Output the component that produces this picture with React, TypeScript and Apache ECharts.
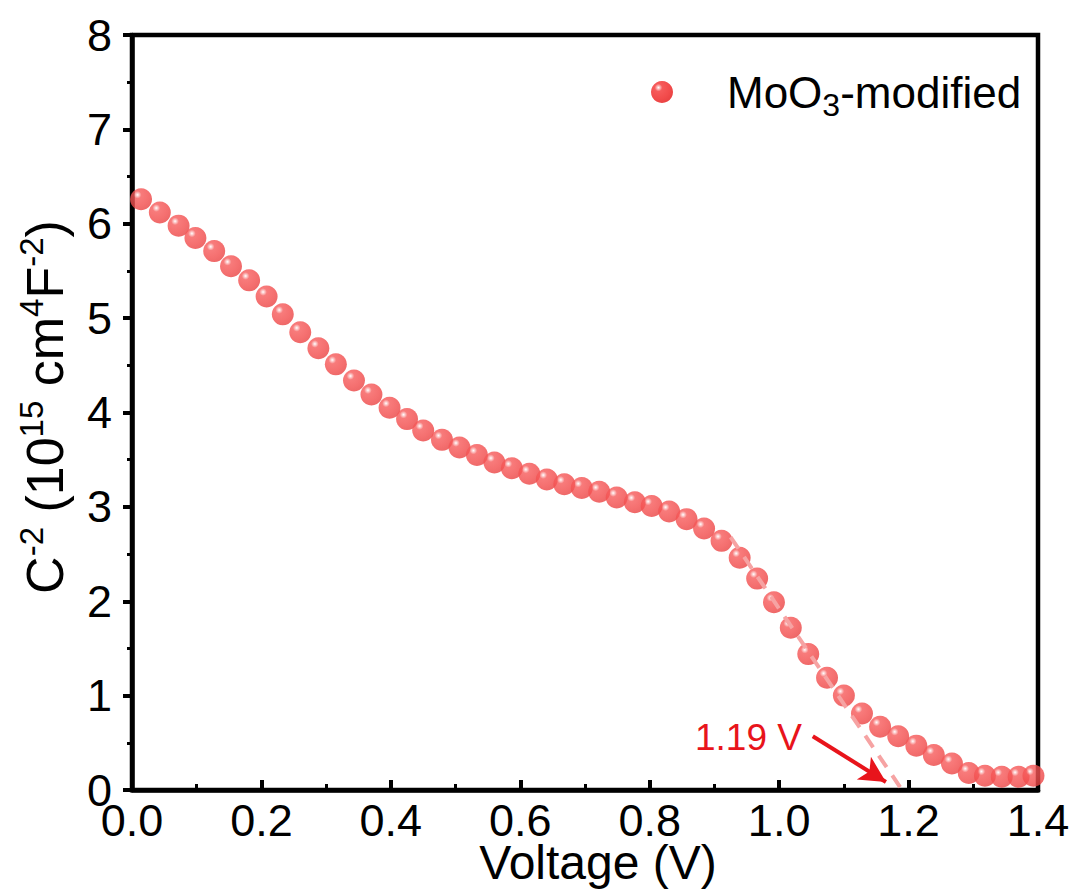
import React, { useEffect, useRef } from "react";
import * as echarts from "echarts";

// Voltage (V)
const voltage = [0.014, 0.043, 0.072, 0.098, 0.127, 0.153, 0.181, 0.208, 0.233, 0.26, 0.288, 0.315, 0.343, 0.37, 0.398, 0.425, 0.45, 0.479, 0.506, 0.533, 0.56, 0.587, 0.614, 0.641, 0.668, 0.695, 0.722, 0.749, 0.777, 0.803, 0.83, 0.857, 0.884, 0.911, 0.939, 0.966, 0.992, 1.018, 1.045, 1.074, 1.1, 1.128, 1.156, 1.184, 1.212, 1.239, 1.267, 1.293, 1.318, 1.344, 1.37, 1.393];
// C^-2 (10^15 cm^4 F^-2)
const invC2 = [6.26, 6.12, 5.98, 5.85, 5.71, 5.55, 5.4, 5.23, 5.04, 4.85, 4.68, 4.51, 4.34, 4.19, 4.05, 3.93, 3.81, 3.71, 3.63, 3.55, 3.47, 3.41, 3.35, 3.29, 3.24, 3.2, 3.16, 3.1, 3.05, 3.01, 2.95, 2.87, 2.77, 2.64, 2.46, 2.24, 1.99, 1.72, 1.44, 1.19, 1.0, 0.81, 0.67, 0.57, 0.47, 0.37, 0.28, 0.18, 0.15, 0.14, 0.14, 0.15];

// linear fit (dashed) endpoints
const fitX = [0.925, 1.19];
const fitY = [2.68, 0];

// arrow pointing to intercept
const arrowStart = [1.052, 0.57];
const arrowEnd = [1.165, 0.085];
const interceptLabel = "1.19 V";

const seriesName = "MoO3-modified";

const FONT = "'Liberation Sans', Arial, sans-serif";

const sphere = () =>
  new echarts.graphic.RadialGradient(0.34, 0.3, 0.72, [
    { offset: 0, color: "#ffffff" },
    { offset: 0.08, color: "#fcc8c8" },
    { offset: 0.24, color: "#f65a5a" },
    { offset: 0.7, color: "#f24c4c" },
    { offset: 1, color: "#ea4343" },
  ]);

export default function App() {
  const ref = useRef<HTMLDivElement>(null);

  useEffect(() => {
    document.documentElement.style.overflow = "hidden";
    document.body.style.margin = "0";
    document.body.style.overflow = "hidden";
    const chart = echarts.init(ref.current!, null, { renderer: "svg" });

    const points = voltage.map((v, i) => [v, invC2[i]]);
    const fit = fitX.map((v, i) => [v, fitY[i]]);

    chart.setOption({
      animation: false,
      backgroundColor: "#ffffff",
      textStyle: { fontFamily: FONT },
      grid: {
        left: 132,
        right: 35,
        top: 35,
        bottom: 104,
        outerBoundsMode: "none",
        containLabel: false,
        show: true,
        borderColor: "#000",
        borderWidth: 4.5,
        backgroundColor: "transparent",
      },
      xAxis: {
        type: "value",
        min: 0,
        max: 1.4,
        interval: 0.2,
        name: "Voltage (V)",
        nameLocation: "middle",
        nameGap: 52,
        nameMoveOverlap: false,
        nameTextStyle: { fontSize: 48, lineHeight: 40, color: "#000", fontFamily: FONT, padding: [0, 0, 0, 26] },
        axisLine: { show: true, onZero: false, lineStyle: { color: "#000", width: 4.5 } },
        axisTick: { show: true, inside: true, length: 10, lineStyle: { color: "#000", width: 4 } },
        minorTick: { show: true, splitNumber: 2, length: 6, lineStyle: { color: "#000", width: 3 } },
        splitLine: { show: false },
        axisLabel: {
          fontSize: 45,
          lineHeight: 32,
          color: "#000",
          margin: 14,
          fontFamily: FONT,
          formatter: (v: number) => v.toFixed(1),
        },
      },
      yAxis: {
        type: "value",
        min: 0,
        max: 8,
        interval: 1,
        axisLine: { show: true, onZero: false, lineStyle: { color: "#000", width: 4.5 } },
        axisTick: { show: true, inside: false, length: 9, lineStyle: { color: "#000", width: 4 } },
        minorTick: { show: true, splitNumber: 2, length: 5, lineStyle: { color: "#000", width: 3 } },
        splitLine: { show: false },
        axisLabel: { fontSize: 45, lineHeight: 28, color: "#000", margin: 20, fontFamily: FONT },
      },
      series: [
        {
          name: seriesName,
          type: "scatter",
          data: points,
          symbol: "circle",
          symbolSize: 22,
          itemStyle: { color: sphere() },
          z: 2,
        },
        {
          name: "fit",
          type: "line",
          data: fit,
          showSymbol: false,
          symbol: "none",
          lineStyle: { color: "#f6a3a3", width: 4, type: [14, 10] },
          z: 3,
          markLine: {
            silent: true,
            symbol: ["none", "arrow"],
            symbolSize: [20, 26],
            label: { show: false },
            lineStyle: { color: "#e8141b", width: 4, type: "solid" },
            data: [[{ coord: arrowStart }, { coord: arrowEnd }]],
          },
        },
      ],
      graphic: [
        {
          type: "circle",
          shape: { cx: 662, cy: 92, r: 11 },
          style: { fill: sphere() },
        },
        {
          type: "text",
          x: 727,
          y: 92,
          style: {
            text: "{a|MoO}{sub|3}{a|-modified}",
            verticalAlign: "middle",
            align: "left",
            rich: {
              a: { fontSize: 44, fontFamily: FONT, fill: "#000", lineHeight: 58 },
              sub: { fontSize: 32, fontFamily: FONT, fill: "#000", lineHeight: 30, verticalAlign: "bottom" },
            },
          },
        },
        {
          type: "text",
          x: 695,
          y: 737,
          style: {
            text: interceptLabel,
            fontSize: 37,
            fontFamily: FONT,
            fill: "#e8141b",
            align: "left",
            verticalAlign: "middle",
          },
        },
        {
          type: "text",
          x: 45,
          y: 407,
          rotation: Math.PI / 2,
          style: {
            text: "{a|C}{sup|-2}{a| (10}{sup|15}{a| cm}{sup|4}{a|F}{sup|-2}{a|)}",
            align: "center",
            verticalAlign: "middle",
            rich: {
              a: { fontSize: 52, fontFamily: FONT, fill: "#000", lineHeight: 60 },
              sup: { fontSize: 33, fontFamily: FONT, fill: "#000", lineHeight: 32, verticalAlign: "top" },
            },
          },
        },
      ],
    });

    return () => chart.dispose();
  }, []);

  return <div ref={ref} style={{ width: 1073, height: 894, overflow: "hidden" }} />;
}
